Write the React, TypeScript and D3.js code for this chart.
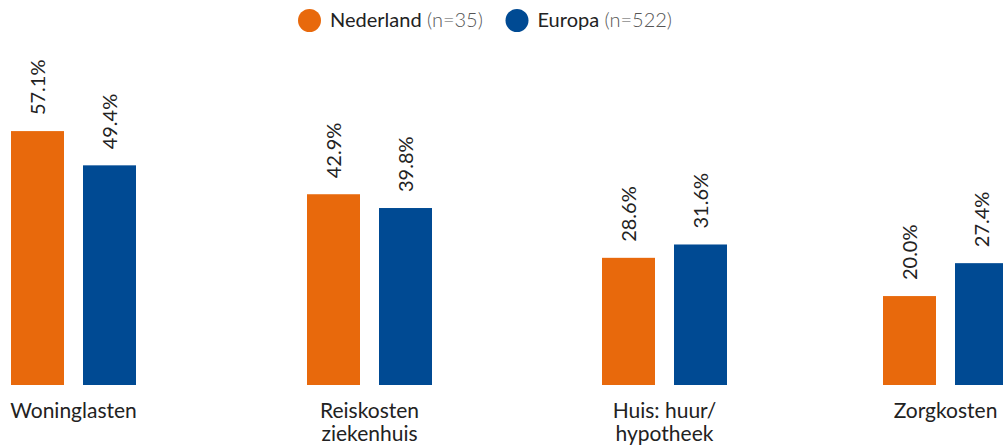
import React, { useEffect, useRef } from "react";
import * as d3 from "d3";

const categories = ["Woninglasten", "Reiskosten\nziekenhuis", "Huis: huur/\nhypotheek", "Zorgkosten"];
const seriesNames = ["Nederland", "Europa"];
const seriesCounts = ["(n=35)", "(n=522)"];
const nederland = [57.1, 42.9, 28.6, 20.0];
const europa = [49.4, 39.8, 31.6, 27.4];
const colors = ["#E8690C", "#004A93"];

const W = 1003;
const H = 447;

export default function App() {
  const ref = useRef<SVGSVGElement | null>(null);

  useEffect(() => {
    const svg = d3.select(ref.current);
    svg.selectAll("*").remove();
    const font = "Lato, 'Noto Sans', sans-serif";

    const xGroup = d3.scaleOrdinal<string, number>().domain(categories).range([73.5, 369.5, 664.5, 945.5]);
    const xInner = d3.scaleBand<string>().domain(seriesNames).range([-62.5, 62.5]).paddingInner(0.264).paddingOuter(0);
    const y = d3.scaleLinear().domain([0, 60]).range([385, 118.2]);

    const data = categories.flatMap((c, i) => [
      { c, s: seriesNames[0], v: nederland[i], col: colors[0] },
      { c, s: seriesNames[1], v: europa[i], col: colors[1] },
    ]);

    const g = svg.append("g");
    g.selectAll("rect.bar")
      .data(data)
      .join("rect")
      .attr("class", "bar")
      .attr("x", (d) => xGroup(d.c) + (xInner(d.s) as number))
      .attr("width", xInner.bandwidth())
      .attr("y", (d) => y(d.v))
      .attr("height", (d) => y(0) - y(d.v))
      .attr("fill", (d) => d.col);

    g.selectAll("text.val")
      .data(data)
      .join("text")
      .attr("class", "val")
      .attr("transform", (d) => {
        const cx = xGroup(d.c) + (xInner(d.s) as number) + xInner.bandwidth() / 2;
        return `translate(${cx},${y(d.v) - 16}) rotate(-90)`;
      })
      .attr("dy", "0.36em")
      .attr("text-anchor", "start")
      .attr("font-family", font)
      .attr("font-size", 20)
      .attr("fill", "#222")
      .text((d) => d.v.toFixed(1) + "%");

    const cat = g.selectAll("text.cat")
      .data(categories)
      .join("text")
      .attr("class", "cat")
      .attr("text-anchor", "middle")
      .attr("font-family", font)
      .attr("font-size", 21)
      .attr("fill", "#222");
    cat.each(function (d) {
      const lines = d.split("\n");
      d3.select(this)
        .selectAll("tspan")
        .data(lines)
        .join("tspan")
        .attr("x", xGroup(d))
        .attr("y", (_, i) => 418 + i * 23)
        .text((l) => l);
    });

    // legend
    const legX = [309.5, 517];
    const leg = svg.append("g");
    seriesNames.forEach((s, i) => {
      leg.append("circle").attr("cx", legX[i]).attr("cy", 20.5).attr("r", 11.5).attr("fill", colors[i]);
      const t = leg.append("text")
        .attr("x", legX[i] + 20.5)
        .attr("y", 27)
        .attr("font-family", font)
        .attr("font-size", 20);
      t.append("tspan").attr("fill", "#222").text(s);
      t.append("tspan").attr("fill", "#555").attr("font-weight", 300).text(" " + seriesCounts[i]);
    });
  }, []);

  return (
    <svg
      ref={ref}
      width={W}
      height={H}
      style={{ position: "absolute", left: 0, top: 0, background: "#fff", display: "block" }}
    />
  );
}
